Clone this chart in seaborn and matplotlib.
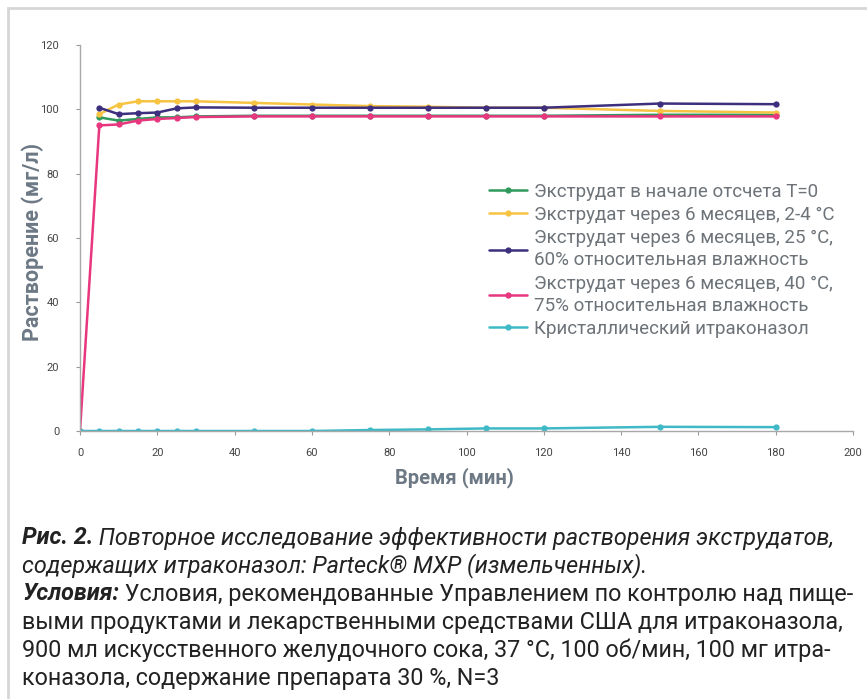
import numpy as np
import pandas as pd
import seaborn as sns
import matplotlib.pyplot as plt
from matplotlib import font_manager
from matplotlib.lines import Line2D
from matplotlib.patches import Rectangle

# data
times = [0, 5, 10, 15, 20, 25, 30, 45, 60, 75, 90, 105, 120, 150, 180]
t0 = [np.nan, 97.5, 96.5, 97, 97.5, 97.5, 97.8, 98, 98, 98, 98, 98, 98, 98.3, 98.3]
m6_cold = [np.nan, 98.5, 101.5, 102.5, 102.5, 102.5, 102.5, 102, 101.5, 101, 100.8, 100.5, 100.5, 99.5, 99]
m6_25 = [np.nan, 100.5, 98.5, 98.8, 99, 100.3, 100.6, 100.5, 100.5, 100.5, 100.5, 100.5, 100.5, 101.8, 101.6]
m6_40 = [0, 95, 95.3, 96.5, 97, 97.3, 97.6, 97.8, 97.8, 97.8, 97.8, 97.8, 97.8, 97.8, 97.8]
cryst = [0, 0, 0, 0, 0, 0, 0, 0, 0, 0.3, 0.5, 0.8, 0.8, 1.3, 1.2]

labels = [
    "Экструдат в начале отсчета T=0",
    "Экструдат через 6 месяцев, 2-4 °C",
    "Экструдат через 6 месяцев, 25 °C,\n60% относительная влажность",
    "Экструдат через 6 месяцев, 40 °C,\n75% относительная влажность",
    "Кристаллический итраконазол",
]
colors = ["#2f9a5c", "#f6c343", "#3d2f7e", "#e8367f", "#3fb9c6"]

caption = [
    [("Рис. 2.", "bold", "italic"),
     (" Повторное исследование эффективности растворения экструдатов,", "normal", "italic")],
    [("содержащих итраконазол: Parteck® MXP (измельченных).", "normal", "italic")],
    [("Условия:", "bold", "italic"),
     (" Условия, рекомендованные Управлением по контролю над пище-", "normal", "normal")],
    [("выми продуктами и лекарственными средствами США для итраконазола,", "normal", "normal")],
    [("900 мл искусственного желудочного сока, 37 °С, 100 об/мин, 100 мг итра-", "normal", "normal")],
    [("коназола, содержание препарата 30 %, N=3", "normal", "normal")],
]

sns.set_style("white")
installed = {f.name for f in font_manager.fontManager.ttflist}
narrow = "Liberation Sans Narrow" if "Liberation Sans Narrow" in installed else "Roboto"
plt.rcParams["font.family"] = [narrow, "DejaVu Sans"]

series = [t0, m6_cold, m6_25, m6_40, cryst]
frames = []
for name, vals in zip(labels, series):
    frames.append(pd.DataFrame({"t": times, "v": vals, "s": name}))
df = pd.concat(frames).dropna()

fig = plt.figure(figsize=(8.67, 6.99), dpi=100)
ax = fig.add_axes([80 / 867, 1 - 431 / 699, 773 / 867, 386 / 699])

sns.lineplot(data=df, x="t", y="v", hue="s", hue_order=labels,
             palette=colors, marker="o", markersize=4.5, markeredgewidth=0,
             linewidth=1.8, ax=ax, legend=False)

ax.set_xlim(0, 200)
ax.set_ylim(0, 120)
ax.set_xticks(range(0, 201, 20))
ax.set_yticks(range(0, 121, 20))
ax.tick_params(axis="both", labelsize=8, colors="#9a9a9a", labelcolor="#444444",
               length=3, width=0.8, direction="out", bottom=True, left=True)
ax.tick_params(axis="x", pad=9)
ax.tick_params(axis="y", pad=12)
for side in ["top", "right"]:
    ax.spines[side].set_visible(False)
for side in ["left", "bottom"]:
    ax.spines[side].set_color("#a8a8a8")
    ax.spines[side].set_linewidth(1.0)

ax.set_xlabel("Время (мин)", fontsize=14.5, fontweight="bold", color="#6c7884")
ax.set_ylabel("Растворение (мг/л)", fontsize=15.5, fontweight="bold", color="#6c7884")
ax.xaxis.set_label_coords(0.485, -0.095)
ax.yaxis.set_label_coords(-0.047, 0.49)

handles = [Line2D([0], [0], color=c, lw=1.8, marker="o", markersize=4.5, markeredgewidth=0)
           for c in colors]
leg = ax.legend(handles, labels, loc="upper left", bbox_to_anchor=(0.52, 0.663),
                frameon=False, fontsize=13.5, handlelength=2.0, handletextpad=0.35,
                labelspacing=0.28, borderaxespad=0)
for txt in leg.get_texts():
    txt.set_color("#6d7378")
    txt.set_linespacing(1.3)

# light frame around the figure panel
fig.patches.append(Rectangle((8 / 867, -0.1), 1.2, 1.1 - 8 / 699, transform=fig.transFigure,
                             fill=False, edgecolor="#d6d6d6", linewidth=2))

# caption under the chart, mixed styles on one line
renderer = fig.canvas.get_renderer()
y0 = 1 - 538 / 699
step = 28 / 699
for i, parts in enumerate(caption):
    x = 22 / 867
    for text, weight, style in parts:
        t = fig.text(x, y0 - i * step, text, fontsize=16.8, fontweight=weight,
                     fontstyle=style, color="#222222", va="center", ha="left")
        bb = t.get_window_extent(renderer=renderer)
        x += bb.width / fig.bbox.width

fig.savefig("out.png", dpi=100)
